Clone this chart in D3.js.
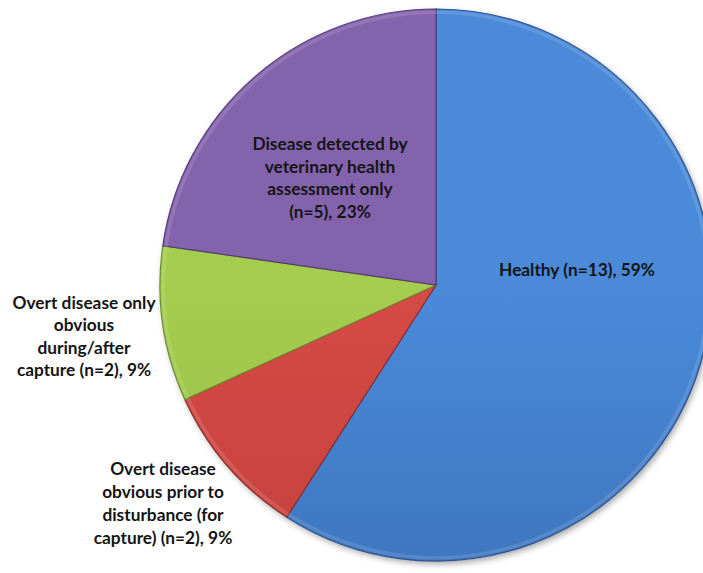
<!DOCTYPE html>
<html><head><meta charset="utf-8">
<script src="https://cdn.jsdelivr.net/npm/d3@7"></script>
<style>body{margin:0;background:#fff;}svg{display:block;}</style>
</head><body>
<svg id="c" width="703" height="573"></svg>
<script>
const categories = ["Healthy", "Overt disease obvious prior to disturbance (for capture)", "Overt disease only obvious during/after capture", "Disease detected by veterinary health assessment only"];
const counts = [13, 2, 2, 5];
const percents = ["59%", "9%", "9%", "23%"];
const labelLines = [
  ["Healthy (n=13), 59%"],
  ["Overt disease", "obvious prior to", "disturbance (for", "capture) (n=2), 9%"],
  ["Overt disease only", "obvious", "during/after", "capture (n=2), 9%"],
  ["Disease detected by", "veterinary health", "assessment only", "(n=5), 23%"]
];
const colorsTop = ["#4a8ad9", "#d64a45", "#a4cc4e", "#8463ad"];
const colorsBot = ["#3462a6", "#b53a36", "#8cb13e", "#6b4b92"];
const edge = ["#2d5390", "#8f2c29", "#6c8a2f", "#543a76"];

const svg = d3.select("#c");
const cx = 436, cy = 285, R = 276;
const defs = svg.append("defs");
const f = defs.append("filter").attr("id","sh").attr("x","-20%").attr("y","-20%").attr("width","140%").attr("height","140%");
f.append("feDropShadow").attr("dx",2).attr("dy",3).attr("stdDeviation",3).attr("flood-color","#000").attr("flood-opacity",0.35);
colorsTop.forEach((c,i)=>{
  const g = defs.append("linearGradient").attr("id","g"+i).attr("gradientUnits","userSpaceOnUse")
    .attr("x1",cx).attr("y1",cy-R).attr("x2",cx).attr("y2",cy+R);
  g.append("stop").attr("offset","0%").attr("stop-color",c);
  g.append("stop").attr("offset","100%").attr("stop-color",colorsBot[i]);
});
const pie = d3.pie().sort(null).value(d=>d)(counts);
const arc = d3.arc().innerRadius(0).outerRadius(R);
const g = svg.append("g").attr("transform",`translate(${cx},${cy})`);
g.append("circle").attr("r",R).attr("fill","#fff").attr("filter","url(#sh)");
g.selectAll("path.s").data(pie).join("path").attr("class","s")
  .attr("d",arc).attr("fill",(d,i)=>`url(#g${i})`).attr("stroke",(d,i)=>edge[i]).attr("stroke-width",1.2);
g.selectAll("path.h").data(pie).join("path").attr("class","h")
  .attr("d",d3.arc().innerRadius(R-5).outerRadius(R-1.5)).attr("fill","#fff").attr("opacity",0.12);

const labelPos = [[577, [269]], [163, [468, 491, 514, 537]], [84, [302, 324, 347, 369]], [330, [143, 166, 188, 211]]];
labelLines.forEach((lines,i)=>{
  const [x, ys] = labelPos[i];
  lines.forEach((t,j)=>{
    svg.append("text").attr("x",x).attr("y",ys[j]).attr("text-anchor","middle").attr("dominant-baseline","central")
      .attr("font-family","Lato, 'Open Sans', sans-serif").attr("font-weight","bold").attr("font-size",17.3)
      .attr("fill","#151515").text(t);
  });
});
</script>
</body></html>
